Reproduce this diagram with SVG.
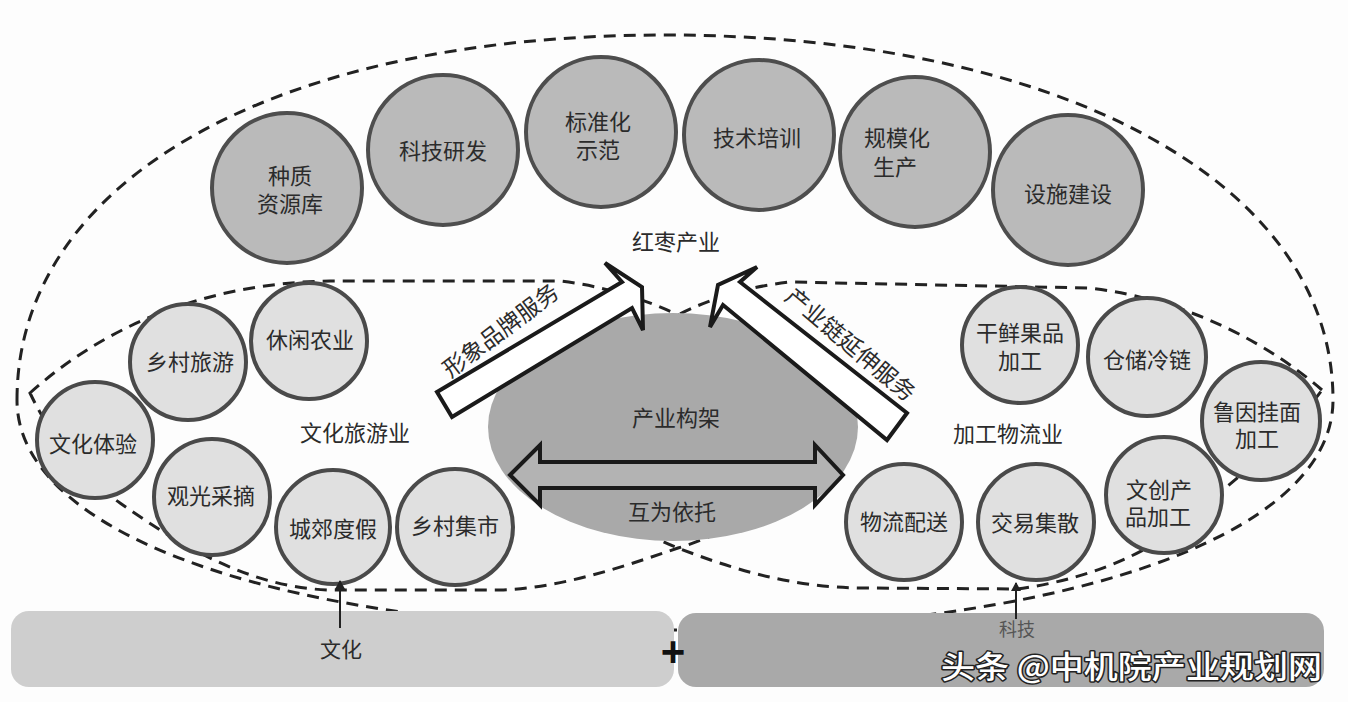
<svg xmlns="http://www.w3.org/2000/svg" width="1348" height="702" viewBox="0 0 1348 702">
<style>
.dash{fill:none;stroke:#222;stroke-width:3;stroke-dasharray:12 8}
.top{fill:#bababa;stroke:#4e4e4e;stroke-width:4}
.low{fill:#e0e0e0;stroke:#4a4a4a;stroke-width:4}
.t{font-family:"Liberation Serif","Noto Sans CJK SC",serif;font-size:22px;fill:#2b2b2b;text-anchor:middle;dominant-baseline:central}
.blk{fill:#fff;stroke:#1a1a1a;stroke-width:4;stroke-linejoin:miter}
</style>
<defs>
<marker id="ah" markerWidth="10" markerHeight="10" refX="8" refY="5" orient="auto" markerUnits="userSpaceOnUse">
<path d="M0,0 L9,5 L0,10 Z" fill="#222"/>
</marker>
</defs>
<rect width="1348" height="702" fill="#fdfdfd"/>

<g id="boundaries">
<path class="dash" d="M17,400 C17,180 275,35 665,35 C1055,35 1333,180 1333,400 C1333,540 1050,630 675,630 C300,630 17,540 17,400 Z"/>
<path class="dash" d="M30,393 C100,330 200,283 330,281 L560,281 C680,295 790,370 790,430 C790,490 740,530 678,548 C620,568 560,588 500,590 L330,590 C250,588 180,545 120,503 C80,475 50,435 30,393 Z"/>
<path class="dash" d="M1322,390 C1270,345 1190,300 1090,288 L790,282 C670,295 580,370 580,430 C580,490 630,530 678,548 C730,568 790,588 866,588 L1017,589 C1100,578 1170,545 1223,490 C1265,455 1300,420 1322,390 Z"/>
</g>

<g id="center">
<ellipse cx="673" cy="427" rx="185" ry="114" fill="#a9a9a9"/>
<text class="t" x="676" y="418">产业构架</text>
<text class="t" x="672" y="512">互为依托</text>
</g>

<g id="connectors">
<polygon class="blk" points="437,392 622,282 605,263 642,287 643,330 632,308 452,417"/>
<polygon class="blk" points="907,413 740,282 757,267 718,285 710,327 723,305 887,440"/>
<polygon fill="#ffffff" fill-opacity="0.12" stroke="#1a1a1a" stroke-width="4" points="510,475 540,445 540,462 815,462 815,445 843,475 815,505 815,488 540,488 540,505"/>
<text class="t" transform="translate(501,331) rotate(-37)" style="font-size:23px">形象品牌服务</text>
<text class="t" transform="translate(850,345) rotate(40)" style="font-size:23px">产业链延伸服务</text>
</g>

<g id="top-circles">
<g id="n-zhongzhi"><circle class="top" cx="287" cy="188" r="75"/><text class="t" x="290" y="176">种质</text><text class="t" x="290" y="204">资源库</text></g>
<g id="n-keji"><circle class="top" cx="443" cy="150" r="75"/><text class="t" x="443" y="151">科技研发</text></g>
<g id="n-biaozhun"><circle class="top" cx="601" cy="132" r="75"/><text class="t" x="598" y="122">标准化</text><text class="t" x="598" y="150">示范</text></g>
<g id="n-jishu"><circle class="top" cx="759" cy="135" r="75"/><text class="t" x="757" y="138">技术培训</text></g>
<g id="n-guimo"><circle class="top" cx="915" cy="152" r="75"/><text class="t" x="897" y="138">规模化</text><text class="t" x="895" y="167">生产</text></g>
<g id="n-sheshi"><circle class="top" cx="1068" cy="190" r="75"/><text class="t" x="1068" y="194">设施建设</text></g>
<text class="t" x="676" y="242">红枣产业</text>
</g>

<g id="left-circles">
<g id="n-xiangcun"><circle class="low" cx="188" cy="362" r="58"/><text class="t" x="190" y="362">乡村旅游</text></g>
<g id="n-xiuxian"><circle class="low" cx="309" cy="341" r="58"/><text class="t" x="310" y="340">休闲农业</text></g>
<g id="n-wenhua"><circle class="low" cx="95" cy="440" r="58"/><text class="t" x="93" y="444">文化体验</text></g>
<g id="n-guanguang"><circle class="low" cx="212" cy="497" r="58"/><text class="t" x="211" y="496">观光采摘</text></g>
<g id="n-chengjiao"><circle class="low" cx="333" cy="527" r="57"/><text class="t" x="333" y="529">城郊度假</text></g>
<g id="n-jishi"><circle class="low" cx="455" cy="527" r="58"/><text class="t" x="455" y="526">乡村集市</text></g>
<text class="t" x="355" y="433">文化旅游业</text>
</g>

<g id="right-circles">
<g id="n-ganxian"><circle class="low" cx="1020" cy="345" r="58"/><text class="t" x="1020" y="333">干鲜果品</text><text class="t" x="1020" y="361">加工</text></g>
<g id="n-cangchu"><circle class="low" cx="1147" cy="357" r="59"/><text class="t" x="1147" y="360">仓储冷链</text></g>
<g id="n-luyin"><circle class="low" cx="1261" cy="421" r="59"/><text class="t" x="1257" y="412">鲁因挂面</text><text class="t" x="1257" y="439">加工</text></g>
<g id="n-wenchuang"><circle class="low" cx="1164" cy="495" r="58"/><text class="t" x="1159" y="490">文创产</text><text class="t" x="1158" y="517">品加工</text></g>
<g id="n-jiaoyi"><circle class="low" cx="1036" cy="522" r="58"/><text class="t" x="1035" y="523">交易集散</text></g>
<g id="n-wuliu"><circle class="low" cx="904" cy="522" r="58"/><text class="t" x="904" y="522">物流配送</text></g>
<text class="t" x="1008" y="434">加工物流业</text>
</g>

<g id="bases">
<g id="n-culture"><rect x="11" y="611" width="663" height="76" rx="18" fill="#cecece"/><text class="t" x="341" y="650" style="font-size:21px">文化</text></g>
<g id="n-tech"><rect x="678" y="613" width="646" height="74" rx="18" fill="#a9a9a9"/><text class="t" x="1017" y="630" style="font-size:18px;fill:#555">科技</text></g>
<text x="673" y="651" style="font-family:'Liberation Sans',sans-serif;font-size:42px;font-weight:bold;fill:#111;text-anchor:middle;dominant-baseline:central">+</text>
</g>

<g id="base-arrows">
<line x1="340" y1="628" x2="340" y2="581" stroke="#222" stroke-width="2" marker-end="url(#ah)"/>
<line x1="1016" y1="619" x2="1016" y2="583" stroke="#222" stroke-width="2" marker-end="url(#ah)"/>
</g>

<text x="941" y="678" textLength="381" lengthAdjust="spacingAndGlyphs" style="font-family:'Noto Sans CJK SC',sans-serif;font-size:31px;font-weight:500;fill:#fff;stroke:#222;stroke-width:3;paint-order:stroke;stroke-linejoin:round">头条 @中机院产业规划网</text>
</svg>
